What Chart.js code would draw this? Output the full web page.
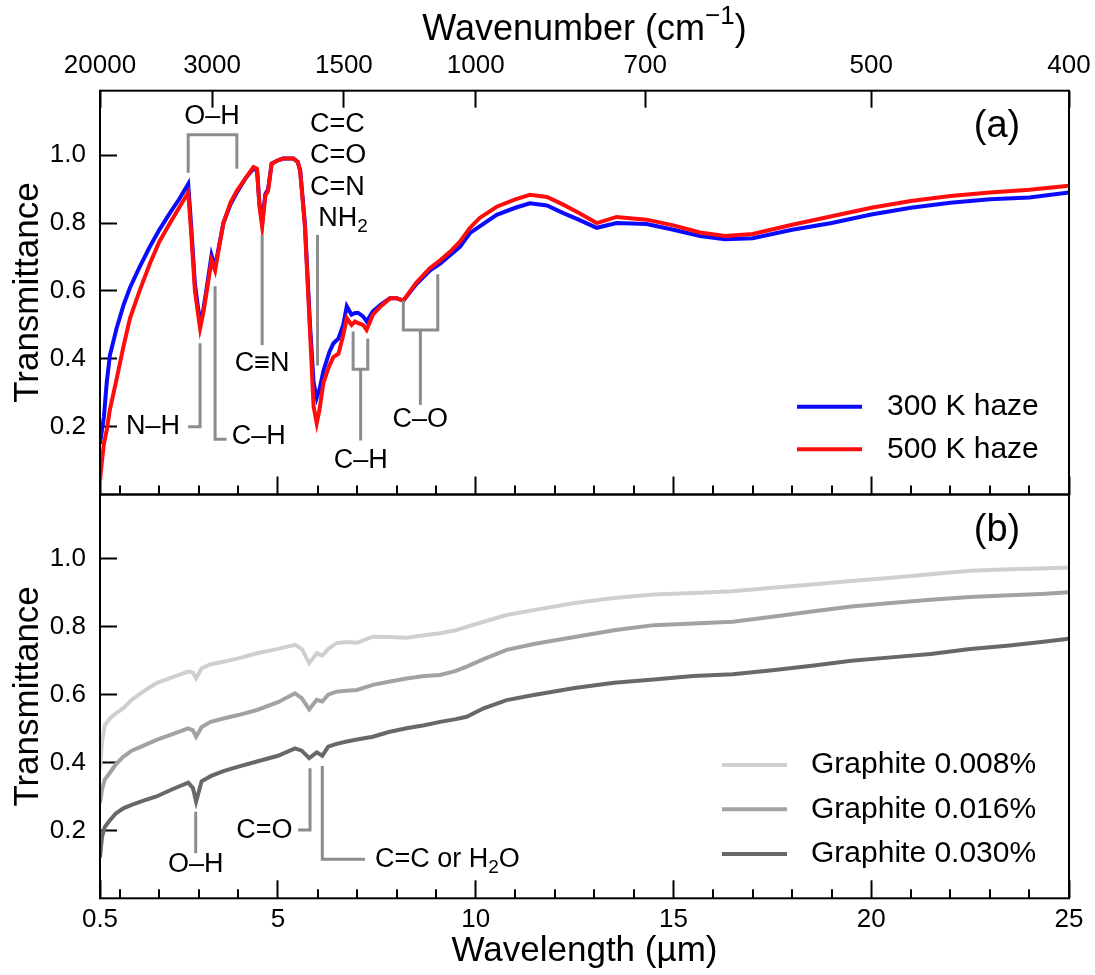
<!DOCTYPE html>
<html>
<head>
<meta charset="utf-8">
<script src="https://cdn.jsdelivr.net/npm/chart.js@4.4.1/dist/chart.umd.min.js"></script>
<style>
    body { margin: 0; background: #fff; }
    #wrap { position: relative; width: 1095px; height: 975px; }
    .panel { position: absolute; left: 0; width: 1095px; }
    #panel-a { top: 0; height: 510px; }
    #panel-b { top: 480px; height: 495px; }
</style>
</head>
<body>
<div id="wrap">
    <div class="panel" id="panel-a"><canvas id="haze-temp"></canvas></div>
    <div class="panel" id="panel-b"><canvas id="haze-graphite"></canvas></div>
</div>
<script>
// ---- data ----
const majorWl = [0.5, 5, 10, 15, 20, 25];
const minorWl = [1, 2, 3, 4, 6, 7, 8, 9, 11, 12, 13, 14, 16, 17, 18, 19, 21, 22, 23, 24];
const wnTicks = [20000, 3000, 1500, 1000, 700, 500, 400];
const yTicks  = [0.2, 0.4, 0.6, 0.8, 1.0];

// panel (a): haze samples
const wlA = [
    0.5, 0.55, 0.6, 0.67, 0.75, 0.92, 1.1, 1.26, 1.5, 1.76,
    2.0, 2.27, 2.5, 2.73, 2.8, 2.9, 3.03, 3.12, 3.2, 3.32,
    3.41, 3.49, 3.62, 3.8, 3.96, 4.2, 4.38, 4.47, 4.53, 4.6,
    4.68, 4.75, 4.84, 5.0, 5.13, 5.39, 5.5, 5.56, 5.68, 5.81,
    5.9, 5.98, 6.05, 6.15, 6.3, 6.4, 6.53, 6.65, 6.74, 6.86,
    6.95, 7.03, 7.15, 7.24, 7.4, 7.6, 7.83, 8.0, 8.17, 8.5,
    8.84, 9.1, 9.35, 9.6, 9.85, 10.1, 10.53, 11.0, 11.37, 11.8,
    12.2, 12.6, 13.06, 13.56, 14.32, 15.0, 15.67, 16.3, 17, 18,
    19, 20, 21, 22, 23, 24, 25
];
const haze300 = [
    0.15, 0.19, 0.23, 0.33, 0.41, 0.49, 0.56, 0.61, 0.67, 0.73,
    0.78, 0.83, 0.87, 0.915, 0.80, 0.62, 0.505, 0.55, 0.61, 0.705,
    0.67, 0.72, 0.80, 0.855, 0.89, 0.935, 0.96, 0.955, 0.86, 0.80,
    0.885, 0.90, 0.975, 0.985, 0.99, 0.99, 0.98, 0.955, 0.80, 0.50,
    0.33, 0.285, 0.31, 0.365, 0.42, 0.445, 0.46, 0.50, 0.555, 0.53,
    0.535, 0.535, 0.525, 0.51, 0.54, 0.56, 0.578, 0.578, 0.571, 0.62,
    0.66, 0.68, 0.705, 0.73, 0.77, 0.79, 0.824, 0.845, 0.858, 0.852,
    0.83, 0.81, 0.786, 0.80, 0.797, 0.78, 0.762, 0.752, 0.755, 0.78,
    0.80, 0.825, 0.845, 0.86, 0.87, 0.875, 0.89
];
const haze500 = [
    0.04, 0.10, 0.15, 0.19, 0.25, 0.34, 0.44, 0.52, 0.60, 0.68,
    0.745, 0.80, 0.845, 0.89, 0.78, 0.60, 0.49, 0.54, 0.60, 0.69,
    0.66, 0.715, 0.80, 0.86, 0.895, 0.935, 0.965, 0.96, 0.85, 0.79,
    0.88, 0.895, 0.975, 0.985, 0.99, 0.99, 0.98, 0.955, 0.79, 0.48,
    0.26, 0.21, 0.25, 0.33, 0.38, 0.405, 0.415, 0.47, 0.52, 0.50,
    0.51, 0.505, 0.50, 0.485, 0.53, 0.555, 0.578, 0.578, 0.572, 0.625,
    0.667, 0.69, 0.715, 0.745, 0.785, 0.815, 0.848, 0.87, 0.883, 0.877,
    0.855, 0.83, 0.80, 0.818, 0.81, 0.793, 0.772, 0.762, 0.768, 0.795,
    0.82, 0.845, 0.865, 0.88, 0.89, 0.898, 0.91
];

// panel (b): graphite-doped samples
const wlB = [
    0.5, 0.55, 0.62, 0.75, 0.9, 1.09, 1.3, 1.6, 1.93, 2.3,
    2.73, 2.85, 2.93, 3.07, 3.3, 3.62, 4.0, 4.47, 5.0, 5.43,
    5.6, 5.79, 5.98, 6.12, 6.27, 6.48, 6.74, 7.0, 7.4, 7.8,
    8.25, 8.7, 9.1, 9.5, 9.77, 10.2, 10.78, 11.5, 12.5, 13.5,
    14.5, 15.5, 16.5, 17.5, 18.5, 19.5, 20.5, 21.5, 22.5, 23.5,
    24.3, 25
];
const graphite008 = [
    0.38, 0.46, 0.51, 0.53, 0.545, 0.56, 0.585, 0.61, 0.634, 0.65,
    0.668, 0.665, 0.648, 0.678, 0.69, 0.697, 0.707, 0.722, 0.735, 0.747,
    0.735, 0.693, 0.722, 0.715, 0.735, 0.752, 0.755, 0.753, 0.771, 0.77,
    0.768, 0.775, 0.781, 0.79, 0.80, 0.815, 0.835, 0.85, 0.87, 0.885,
    0.895, 0.90, 0.905, 0.915, 0.925, 0.935, 0.945, 0.955, 0.965, 0.97,
    0.972, 0.975
];
const graphite016 = [
    0.28, 0.32, 0.35, 0.37, 0.395, 0.417, 0.435, 0.45, 0.467, 0.482,
    0.501, 0.495, 0.476, 0.505, 0.52, 0.53, 0.54, 0.555, 0.578, 0.604,
    0.59, 0.557, 0.585, 0.58, 0.60, 0.609, 0.612, 0.614, 0.629, 0.638,
    0.648, 0.655, 0.658, 0.67, 0.683, 0.705, 0.732, 0.75, 0.77, 0.79,
    0.805, 0.81, 0.815, 0.83, 0.845, 0.86, 0.87, 0.88, 0.888, 0.893,
    0.897, 0.902
];
const graphite030 = [
    0.12, 0.18, 0.21, 0.23, 0.25, 0.265, 0.275, 0.288, 0.30, 0.32,
    0.341, 0.325, 0.285, 0.345, 0.36, 0.375, 0.388, 0.403, 0.42, 0.442,
    0.435, 0.413, 0.43, 0.42, 0.447, 0.455, 0.462, 0.468, 0.476, 0.49,
    0.501, 0.51, 0.52, 0.528, 0.535, 0.56, 0.584, 0.60, 0.62, 0.635,
    0.645, 0.655, 0.66, 0.672, 0.685, 0.70, 0.71, 0.72, 0.735, 0.745,
    0.755, 0.765
];

// band assignments (anchors in wavelength / transmittance units)
const notesA = {
    lines: [
        [[2.73, 0.948], [2.73, 1.06], [3.96, 1.06], [3.96, 0.96]],
        [[3.03, 0.446], [3.03, 0.2], [2.73, 0.2]],
        [[3.41, 0.614], [3.41, 0.163], [3.7, 0.163]],
        [[4.6, 0.765], [4.6, 0.44]],
        [[6.0, 0.765], [6.0, 0.38]],
        [[6.9, 0.48], [6.9, 0.369], [7.27, 0.369], [7.27, 0.46]],
        [[7.09, 0.369], [7.09, 0.159]],
        [[8.17, 0.571], [8.17, 0.485], [9.04, 0.485], [9.04, 0.649]],
        [[8.6, 0.485], [8.6, 0.264]]
    ],
    texts: [
        ['O–H', 3.33, 1.115, 'center'],
        ['N–H', 2.52, 0.2, 'right'],
        ['C–H', 3.83, 0.17, 'left'],
        ['C≡N', 4.6, 0.387, 'center'],
        ['C=C', 5.81, 1.09, 'left'],
        ['C=O', 5.81, 1.0, 'left'],
        ['C=N', 5.81, 0.905, 'left'],
        ['NH_2', 6.02, 0.814, 'left'],
        ['C–H', 7.09, 0.10, 'center'],
        ['C–O', 8.6, 0.22, 'center']
    ]
};
const notesB = {
    lines: [
        [[2.92, 0.255], [2.92, 0.133]],
        [[5.81, 0.383], [5.81, 0.201], [5.51, 0.201]],
        [[6.12, 0.39], [6.12, 0.115], [7.2, 0.115]]
    ],
    texts: [
        ['O–H', 2.92, 0.098, 'center'],
        ['C=O', 5.37, 0.2, 'right'],
        ['C=C or H_2O', 7.45, 0.115, 'left']
    ]
};

const FONT = '"Liberation Sans", Arial, Helvetica, sans-serif';
Chart.defaults.font.family = FONT;
Chart.defaults.color = '#000';

function richParts(str)
{
    const parts = [];
    const re = /_(\w)|\^\{([^}]*)\}/g;
    let last = 0, m;
    while ((m = re.exec(str))) {
        if (m.index > last) parts.push({ t: str.slice(last, m.index), mode: 0 });
        parts.push(m[1] ? { t: m[1], mode: -1 } : { t: m[2], mode: 1 });
        last = re.lastIndex;
    }
    if (last < str.length) parts.push({ t: str.slice(last), mode: 0 });
    return parts;
}

function drawRich(ctx, str, x, y, align, size)
{
    const parts = richParts(str);
    const fontOf = p => (p.mode ? Math.round(size * 0.72) : size) + 'px ' + FONT;
    let total = 0;
    parts.forEach(p => { ctx.font = fontOf(p); p.w = ctx.measureText(p.t).width; total += p.w; });
    let cx = align === 'center' ? x - total / 2 : (align === 'right' ? x - total : x);
    ctx.textAlign = 'left';
    ctx.textBaseline = 'middle';
    parts.forEach(p => {
        ctx.font = fontOf(p);
        const dy = p.mode === -1 ? size * 0.3 : (p.mode === 1 ? -size * 0.36 : 0);
        ctx.fillText(p.t, cx, y + dy);
        cx += p.w;
    });
}

// frame, minor ticks, titles, legend and band labels
function makeOverlay(cfg)
{
    return {
        id: 'overlay',
        afterDraw(chart) {
            const { ctx, chartArea: a, scales } = chart;
            const xs = scales.x, ys = scales.y;
            const off = cfg.top;
            ctx.save();

            ctx.strokeStyle = '#000';
            ctx.lineWidth = 2;
            ctx.beginPath();
            minorWl.forEach(v => {
                const px = Math.round(xs.getPixelForValue(v));
                ctx.moveTo(px, a.bottom);
                ctx.lineTo(px, a.bottom - 9);
            });
            ctx.stroke();
            ctx.strokeRect(a.left, a.top, a.right - a.left, a.bottom - a.top);

            // band assignment markers
            ctx.strokeStyle = '#8c8c8c';
            ctx.lineWidth = 3;
            ctx.lineJoin = 'miter';
            cfg.notes.lines.forEach(seg => {
                ctx.beginPath();
                seg.forEach(([vx, vy], i) => {
                    const px = xs.getPixelForValue(vx), py = ys.getPixelForValue(vy);
                    if (i === 0) ctx.moveTo(px, py); else ctx.lineTo(px, py);
                });
                ctx.stroke();
            });
            ctx.fillStyle = '#000';
            cfg.notes.texts.forEach(([txt, vx, vy, align]) => {
                drawRich(ctx, txt, xs.getPixelForValue(vx), ys.getPixelForValue(vy), align, 27);
            });

            // legend
            chart.data.datasets.forEach((ds, i) => {
                const ly = cfg.legend.y[i] - off;
                ctx.strokeStyle = ds.borderColor;
                ctx.lineWidth = 4;
                ctx.beginPath();
                ctx.moveTo(cfg.legend.x0, ly);
                ctx.lineTo(cfg.legend.x1, ly);
                ctx.stroke();
                ctx.fillStyle = '#000';
                drawRich(ctx, ds.label, cfg.legend.tx, ly, 'left', 30);
            });

            // panel tag
            drawRich(ctx, cfg.tag, 997, cfg.tagY - off, 'center', 38);

            // axis titles
            ctx.save();
            ctx.translate(28, (a.top + a.bottom) / 2);
            ctx.rotate(-Math.PI / 2);
            drawRich(ctx, 'Transmittance', 0, 0, 'center', 35);
            ctx.restore();
            if (cfg.topTitle) drawRich(ctx, cfg.topTitle, (a.left + a.right) / 2, 30 - off, 'center', 36);
            if (cfg.bottomTitle) drawRich(ctx, cfg.bottomTitle, (a.left + a.right) / 2, 951.5 - off, 'center', 35);

            ctx.restore();
        }
    };
}

// keep label overhang from shrinking the plot area
function noPad(s)
{
    s.paddingTop = 0;
    s.paddingBottom = 0;
    s.paddingLeft = 0;
    s.paddingRight = 0;
}

function xBottom(showLabels, height)
{
    return {
        type: 'linear', position: 'bottom', min: 0.5, max: 25,
        afterBuildTicks: s => { s.ticks = majorWl.map(v => ({ value: v })); },
        ticks: { display: showLabels, padding: 24, font: { size: 26 }, color: '#000', maxRotation: 0,
                 callback: v => String(v) },
        grid: { drawOnChartArea: false, tickLength: -18, tickWidth: 2, tickColor: '#000' },
        border: { display: false },
        afterFit: s => { s.height = height; noPad(s); }
    };
}

function yLeft()
{
    return {
        type: 'linear', position: 'left', min: 0, max: 1.19,
        afterBuildTicks: s => { s.ticks = yTicks.map(v => ({ value: v })); },
        ticks: { padding: 31, font: { size: 26 }, color: '#000', callback: v => v.toFixed(1) },
        grid: { drawOnChartArea: false, tickLength: -17, tickWidth: 2, tickColor: '#000' },
        border: { display: false },
        afterFit: s => { s.width = 100; noPad(s); }
    };
}

function series(xs, ys)
{
    return xs.map((x, i) => ({ x: x, y: ys[i] }));
}

const lineStyle = { pointRadius: 0, tension: 0, fill: false, borderWidth: 4 };

const hazeCtx = document.getElementById('haze-temp');

new Chart(hazeCtx, {
    type: 'line',
    data: {
        datasets: [
            Object.assign({ label: '300 K haze', data: series(wlA, haze300), borderColor: '#0a0aff', order: 2 }, lineStyle),
            Object.assign({ label: '500 K haze', data: series(wlA, haze500), borderColor: '#ff0d0d', order: 1 }, lineStyle)
        ]
    },
    options: {
        responsive: true,
        maintainAspectRatio: false,
        animation: false,
        parsing: false,
        layout: { padding: { left: 0, right: 26, top: 0, bottom: 0 } },
        plugins: { legend: { display: false }, tooltip: { enabled: false } },
        scales: {
            x: xBottom(false, 15.5),
            x2: {
                type: 'linear', position: 'top', min: 0.5, max: 25,
                afterBuildTicks: s => { s.ticks = wnTicks.map(w => ({ value: 1e4 / w })); },
                ticks: { padding: 26, font: { size: 26 }, color: '#000', maxRotation: 0,
                         callback: (v, i) => String(wnTicks[i]) },
                grid: { drawOnChartArea: false, tickLength: -17, tickWidth: 2, tickColor: '#000' },
                border: { display: false },
                afterFit: s => { s.height = 90.7; noPad(s); }
            },
            y: yLeft()
        }
    },
    plugins: [makeOverlay({
        top: 0, notes: notesA, tag: '(a)', tagY: 127,
        legend: { x0: 797, x1: 862, tx: 887, y: [406.7, 449.3] },
        topTitle: 'Wavenumber (cm^{−1})'
    })]
});

const graphiteCtx = document.getElementById('haze-graphite');

new Chart(graphiteCtx, {
    type: 'line',
    data: {
        datasets: [
            Object.assign({ label: 'Graphite 0.008%', data: series(wlB, graphite008), borderColor: '#cfcfcf' }, lineStyle),
            Object.assign({ label: 'Graphite 0.016%', data: series(wlB, graphite016), borderColor: '#a2a2a2' }, lineStyle),
            Object.assign({ label: 'Graphite 0.030%', data: series(wlB, graphite030), borderColor: '#686868' }, lineStyle)
        ]
    },
    options: {
        responsive: true,
        maintainAspectRatio: false,
        animation: false,
        parsing: false,
        layout: { padding: { left: 0, right: 26, top: 14.5, bottom: 0 } },
        plugins: { legend: { display: false }, tooltip: { enabled: false } },
        scales: {
            x: xBottom(true, 76.7),
            y: yLeft()
        }
    },
    plugins: [makeOverlay({
        top: 480, notes: notesB, tag: '(b)', tagY: 531,
        legend: { x0: 722, x1: 787, tx: 811, y: [765, 809.3, 854] },
        bottomTitle: 'Wavelength (µm)'
    })]
});
</script>
</body>
</html>
